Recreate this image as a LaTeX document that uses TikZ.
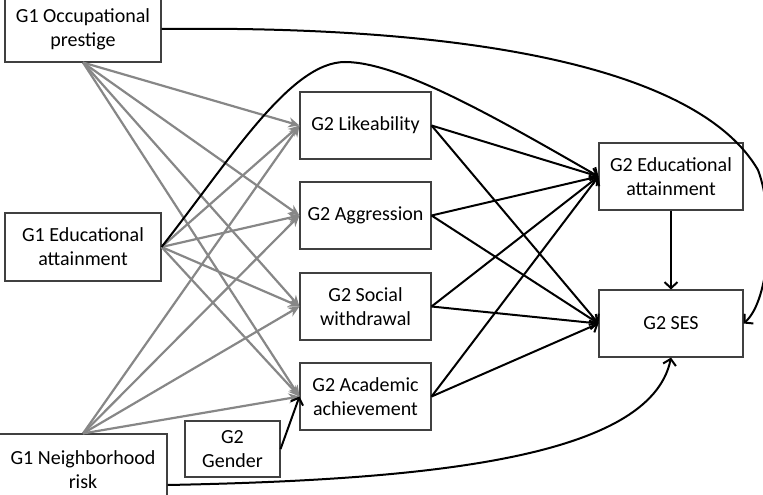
\documentclass[tikz,border=0pt]{standalone}
\usepackage{fontspec}
\setmainfont{Carlito}
\usetikzlibrary{arrows.meta}
\begin{document}
\begin{tikzpicture}[x=1pt,y=-1pt,
  box/.style={draw=black!75,line width=1.1pt,fill=white,align=center,inner sep=0pt,
    font=\fontsize{20}{24}\selectfont},
  garrow/.style={draw=black!47,line width=2.2pt,-{Stealth[length=11pt,width=10pt]}},
  barrow/.style={draw=black,line width=2pt,-{Straight Barb[length=6pt,width=13pt]}}]
\useasboundingbox (0,0) rectangle (763,495);
% nodes
\node[box,minimum width=156pt,minimum height=66pt] (occ) at (83,29) {G1 Occupational\\prestige};
\node[box,minimum width=156pt,minimum height=68pt] (edu1) at (83,247) {G1 Educational\\attainment};
\node[box,minimum width=168pt,minimum height=72pt] (nbh) at (83,470) {G1 Neighborhood\\risk};
\node[box,minimum width=95pt,minimum height=56pt] (gender) at (232.5,449) {G2\\Gender};
\node[box,minimum width=131pt,minimum height=67pt] (like) at (365.5,125.5) {G2 Likeability};
\node[box,minimum width=131pt,minimum height=67pt] (agg) at (365.5,215.5) {G2 Aggression};
\node[box,minimum width=131pt,minimum height=67pt] (soc) at (365.5,306.5) {G2 Social\\withdrawal};
\node[box,minimum width=131pt,minimum height=67pt] (acad) at (365.5,396.5) {G2 Academic\\achievement};
\node[box,minimum width=144pt,minimum height=67pt] (edu2) at (671,176.5) {G2 Educational\\attainment};
\node[box,minimum width=144pt,minimum height=67pt] (ses) at (671,323.5) {G2 SES};
% gray arrows
\foreach \s in {occ.south,edu1.east,nbh.north}{
  \foreach \t in {like,agg,soc,acad}{
    \draw[garrow] (\s) -- (\t.west);
  }
}
% black arrows
\foreach \t in {like,agg,soc,acad}{
  \draw[barrow] (\t.east) -- (edu2.west);
  \draw[barrow] (\t.east) -- (ses.west);
}
\draw[barrow] (edu2.south) -- (ses.north);
\draw[barrow] (gender.east) -- (acad.west);
% curves
\draw[barrow] (occ.east) .. controls (480,25) and (700,70) .. (758,170)
  .. controls (775,215) and (770,300) .. (ses.east);
\draw[barrow] (edu1.east) .. controls (230,160) and (290,62) .. (345,62)
  .. controls (400,62) and (500,120) .. (edu2.west);
\draw[barrow] ([yshift=-15pt]nbh.east) .. controls (420,480) and (650,460) .. (ses.south);
\end{tikzpicture}
\end{document}
